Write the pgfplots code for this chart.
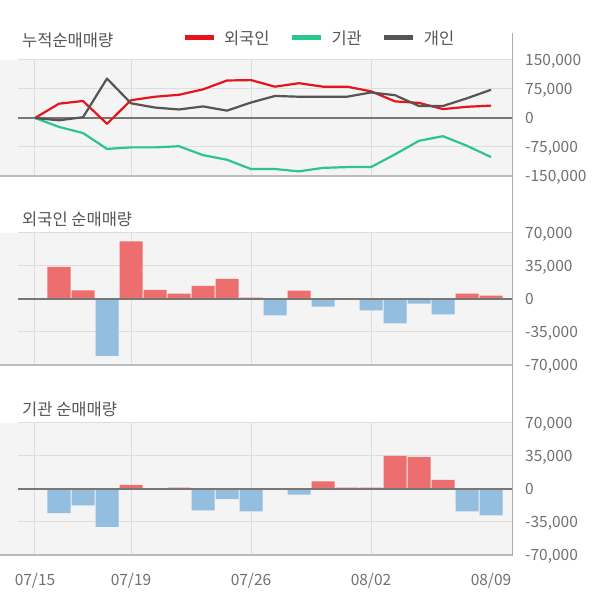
\documentclass[border=0pt]{standalone}
\usepackage{fontspec}
\setmainfont{Noto Sans CJK KR}
\usepackage{pgfplots}
\pgfplotsset{compat=1.18}

\definecolor{fgn}{HTML}{E6141C}
\definecolor{ins}{HTML}{2BC68B}
\definecolor{ind}{HTML}{555555}
\definecolor{barup}{HTML}{EC6E6E}
\definecolor{bardn}{HTML}{93BEE0}
\definecolor{bgc}{HTML}{F4F4F4}
\definecolor{gridc}{HTML}{DDDDDD}
\definecolor{zeroc}{HTML}{777777}
\definecolor{basec}{HTML}{BBBBBB}
\definecolor{axc}{HTML}{AAAAAA}
\definecolor{textc}{HTML}{555555}
\definecolor{tickc}{HTML}{707070}

\pgfplotsset{
  panel/.style={
    scale only axis, width=513pt,
    xmin=-1.4583, xmax=19.9167,
    axis line style={draw=none},
    tick style={draw=none},
    axis background/.style={fill=bgc},
    clip=false,
    scaled y ticks=false,
    ytick pos=right,
    yticklabel pos=right,
    yticklabel style={anchor=base west, inner sep=0pt, xshift=12pt, yshift=-5.7pt,
      text=tickc, font=\fontsize{15.5}{16}\selectfont},
    xtick=\empty,
  },
  barpanel/.style={
    panel, height=132pt,
    ymin=-70000, ymax=70000,
    ytick={-70000,-35000,0,35000,70000},
    yticklabels={{-70,000},{-35,000},{0},{35,000},{70,000}},
  },
}

% horizontal grid line, vertical grid lines
\newcommand{\hgrid}[1]{\draw[gridc, line width=1pt] (axis cs:-0.7083,#1) -- (axis cs:19.9167,#1);}
\newcommand{\vgrid}[2]{%
  \draw[gridc, line width=1pt] (axis cs:0,#1) -- (axis cs:0,#2);
  \draw[gridc, line width=1pt] (axis cs:4,#1) -- (axis cs:4,#2);
  \draw[gridc, line width=1pt] (axis cs:9,#1) -- (axis cs:9,#2);
  \draw[gridc, line width=1pt] (axis cs:14,#1) -- (axis cs:14,#2);}

\begin{document}
\begin{tikzpicture}
\path[use as bounding box] (0pt,0pt) rectangle (600pt,604pt);

% ---------- cumulative ----------
\begin{axis}[panel, at={(0pt,428pt)}, anchor=south west, height=116pt,
  ymin=-150000, ymax=150000,
  ytick={-150000,-75000,0,75000,150000},
  yticklabels={{-150,000},{-75,000},{0},{75,000},{150,000}},
  legend columns=3,
  legend cell align=left,
  legend image code/.code={\draw[#1, line width=5pt] (0pt,0pt) -- (29pt,0pt);},
  legend style={at={(axis description cs:0.3548,1.19)}, anchor=west,
    draw=none, fill=none, inner sep=0pt, outer sep=0pt,
    font=\fontsize{16.5}{18}\selectfont, text=textc,
    nodes={inner sep=0pt},
    /tikz/every odd column/.append style={column sep=8pt},
    /tikz/every even column/.append style={column sep=20pt}},
]
\vgrid{-150000}{150000}
\hgrid{150000}\hgrid{75000}\hgrid{-75000}
\draw[basec, line width=1.2pt] (axis cs:-1.4583,-150000) -- (axis cs:19.9167,-150000);
\draw[zeroc, line width=2pt] (axis cs:-0.7083,0) -- (axis cs:19.9167,0);

\addplot[fgn, line width=2.2pt, line join=round] coordinates {
(0,0)(1,37000)(2,44000)(3,-15000)(4,46000)(5,55000)(6,60000)(7,74000)(8,97000)(9,98000)
(10,81000)(11,90000)(12,81000)(13,81000)(14,69000)(15,43000)(16,39000)(17,23000)(18,29000)(19,32000)};
\addlegendentry{외국인}
\addplot[ins, line width=2.2pt, line join=round] coordinates {
(0,0)(1,-23000)(2,-39000)(3,-80000)(4,-76000)(5,-76000)(6,-73000)(7,-96000)(8,-108000)(9,-132000)
(10,-132000)(11,-138000)(12,-129000)(13,-127000)(14,-127000)(15,-94000)(16,-59000)(17,-47000)(18,-72000)(19,-101000)};
\addlegendentry{기관}
\addplot[ind, line width=2.2pt, line join=round] coordinates {
(0,0)(1,-6000)(2,2000)(3,102000)(4,38000)(5,27000)(6,22000)(7,30000)(8,19000)(9,40000)
(10,57000)(11,55000)(12,55000)(13,55000)(14,66000)(15,59000)(16,31000)(17,31000)(18,51000)(19,73000)};
\addlegendentry{개인}
\end{axis}

% ---------- foreign daily ----------
\begin{axis}[barpanel, at={(0pt,239pt)}, anchor=south west]
\vgrid{-70000}{70000}
\hgrid{70000}\hgrid{35000}\hgrid{-35000}
\draw[basec, line width=1.2pt] (axis cs:-1.4583,-70000) -- (axis cs:19.9167,-70000);
\addplot[ybar, bar width=23pt, bar shift=0pt, fill=barup, draw=none] coordinates {
(1,34000)(2,9100)(4,61000)(5,9800)(6,5600)(7,14000)(8,21300)(9,1400)(11,8750)(18,5600)(19,3500)};
\addplot[ybar, bar width=23pt, bar shift=0pt, fill=bardn, draw=none] coordinates {
(3,-60200)(10,-17500)(12,-8000)(14,-12200)(15,-25900)(16,-4900)(17,-16400)};
\draw[zeroc, line width=2pt] (axis cs:-0.7083,0) -- (axis cs:19.9167,0);
\end{axis}

% ---------- institution daily ----------
\begin{axis}[barpanel, at={(0pt,49pt)}, anchor=south west,
  xtick={0,4,9,14,19},
  xticklabels={07/15,07/19,07/26,08/02,08/09},
  xticklabel style={anchor=base, inner sep=0pt, yshift=-30.7pt,
    text=tickc, font=\fontsize{15.5}{16}\selectfont},
]
\vgrid{-70000}{70000}
\hgrid{70000}\hgrid{35000}\hgrid{-35000}
\draw[basec, line width=1.2pt] (axis cs:-1.4583,-70000) -- (axis cs:19.9167,-70000);
\addplot[ybar, bar width=23pt, bar shift=0pt, fill=barup, draw=none] coordinates {
(4,4500)(6,1400)(12,8000)(13,1400)(14,1400)(15,35000)(16,34000)(17,9800)};
\addplot[ybar, bar width=23pt, bar shift=0pt, fill=bardn, draw=none] coordinates {
(1,-25500)(2,-17500)(3,-40200)(7,-22700)(8,-10800)(9,-23800)(11,-5900)(18,-23800)(19,-28000)};
\draw[zeroc, line width=2pt] (axis cs:-0.7083,0) -- (axis cs:19.9167,0);
\end{axis}

% titles and right axis line
\node[anchor=base west, inner sep=0pt, text=textc, font=\fontsize{16.5}{18}\selectfont] at (22pt,557pt) {누적순매매량};
\node[anchor=base west, inner sep=0pt, text=textc, font=\fontsize{16.5}{18}\selectfont] at (22pt,378.7pt) {외국인 순매매량};
\node[anchor=base west, inner sep=0pt, text=textc, font=\fontsize{16.5}{18}\selectfont] at (22pt,188.7pt) {기관 순매매량};
\draw[axc, line width=1.5pt] (512.5pt,571pt) -- (512.5pt,48pt);
\end{tikzpicture}
\end{document}
